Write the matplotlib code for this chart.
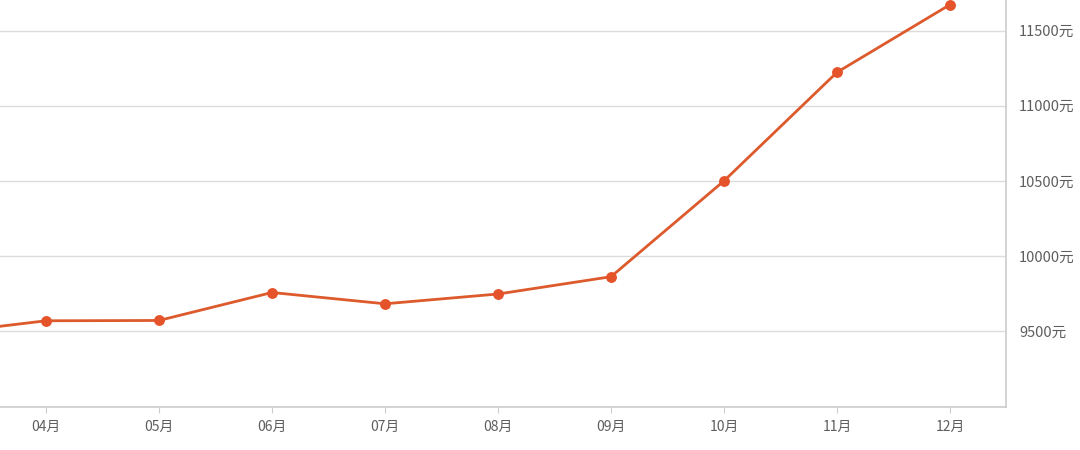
import matplotlib.pyplot as plt
from matplotlib.ticker import FixedLocator

plt.rcParams['font.family'] = ['Noto Sans CJK SC', 'DejaVu Sans']

# monthly values, 03月 sits just off the left edge
months = ['03月', '04月', '05月', '06月', '07月', '08月', '09月', '10月', '11月', '12月']
price = [9480, 9570, 9572, 9758, 9683, 9748, 9863, 10500, 11222, 11672]
y_ticks = [9500, 10000, 10500, 11000, 11500]

fig = plt.figure(figsize=(10.8, 4.5), dpi=100)
ax = fig.add_axes([0, 43.5 / 450, 1006 / 1080, 406.5 / 450])

x = list(range(len(months)))
ax.plot(x, price, color='#dc5a2c', lw=2.0, marker='o', markersize=6.8,
        markerfacecolor='#e5532a', markeredgecolor='#e5532a', zorder=3)

ax.set_xlim(0.593, 9.496)
ax.set_ylim(9000, 11703)

ax.set_xticks(x[1:])
ax.set_xticklabels(months[1:])
ax.yaxis.tick_right()
ax.yaxis.set_major_locator(FixedLocator(y_ticks))
ax.set_yticklabels([f'{v}元' for v in y_ticks])

ax.grid(axis='y', color='#dcdcdc', lw=1.0)
ax.set_axisbelow(True)

for s in ['top', 'left']:
    ax.spines[s].set_visible(False)
for s in ['bottom', 'right']:
    ax.spines[s].set_color('#cccccc')
    ax.spines[s].set_linewidth(1.2)

ax.tick_params(axis='x', length=4, color='#cccccc', pad=6, labelsize=10, labelcolor='#5e5e5e')
ax.tick_params(axis='y', length=0, pad=9.5, labelsize=10.5, labelcolor='#5e5e5e')

fig.savefig('out.png', dpi=100)
